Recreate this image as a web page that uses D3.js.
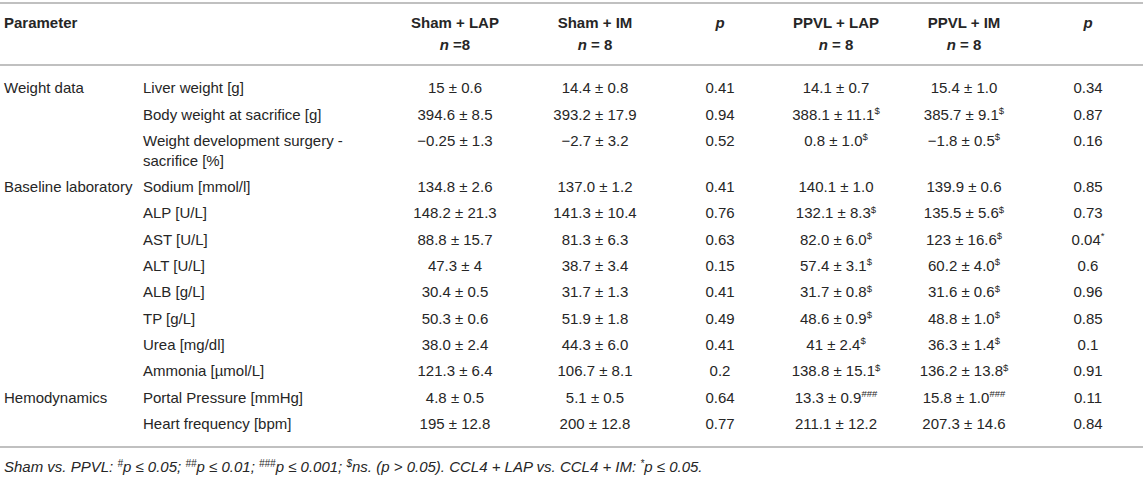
<!DOCTYPE html>
<html>
<head>
<meta charset="utf-8">
<script src="https://cdn.jsdelivr.net/npm/d3@7"></script>
<style>
  html, body { margin: 0; padding: 0; background: #fff; }
  svg text { font-family: "Liberation Sans", Arial, Helvetica, sans-serif; fill: #262626; }
</style>
</head>
<body>
<div id="table"></div>
<script>
const width = 1143;
const height = 477;

// column headers
const columns = ["param", "sub", "shamLap", "shamIm", "p1", "ppvlLap", "ppvlIm", "p2"];
const headTop = ["Parameter", "", "Sham + LAP", "Sham + IM", "p", "PPVL + LAP", "PPVL + IM", "p"];
const headBottom = ["", "", "n =8", "n = 8", "", "n = 8", "n = 8", ""];

// row labels
const groups = ["Weight data", "", "", "Baseline laboratory", "", "", "", "", "", "", "", "Hemodynamics", ""];
const params = [
  ["Liver weight [g]"],
  ["Body weight at sacrifice [g]"],
  ["Weight development surgery -", "sacrifice [%]"],
  ["Sodium [mmol/l]"],
  ["ALP [U/L]"],
  ["AST [U/L]"],
  ["ALT [U/L]"],
  ["ALB [g/L]"],
  ["TP [g/L]"],
  ["Urea [mg/dl]"],
  ["Ammonia [\u00b5mol/L]"],
  ["Portal Pressure [mmHg]"],
  ["Heart frequency [bpm]"]
];

// values (mean ± sd)
const shamLap = ["15 ± 0.6", "394.6 ± 8.5", "\u22120.25 ± 1.3", "134.8 ± 2.6", "148.2 ± 21.3", "88.8 ± 15.7",
  "47.3 ± 4", "30.4 ± 0.5", "50.3 ± 0.6", "38.0 ± 2.4", "121.3 ± 6.4", "4.8 ± 0.5", "195 ± 12.8"];
const shamIm = ["14.4 ± 0.8", "393.2 ± 17.9", "\u22122.7 ± 3.2", "137.0 ± 1.2", "141.3 ± 10.4", "81.3 ± 6.3",
  "38.7 ± 3.4", "31.7 ± 1.3", "51.9 ± 1.8", "44.3 ± 6.0", "106.7 ± 8.1", "5.1 ± 0.5", "200 ± 12.8"];
const pSham = ["0.41", "0.94", "0.52", "0.41", "0.76", "0.63", "0.15", "0.41", "0.49", "0.41", "0.2", "0.64", "0.77"];
const ppvlLap = ["14.1 ± 0.7", "388.1 ± 11.1", "0.8 ± 1.0", "140.1 ± 1.0", "132.1 ± 8.3", "82.0 ± 6.0",
  "57.4 ± 3.1", "31.7 ± 0.8", "48.6 ± 0.9", "41 ± 2.4", "138.8 ± 15.1", "13.3 ± 0.9", "211.1 ± 12.2"];
const ppvlIm = ["15.4 ± 1.0", "385.7 ± 9.1", "\u22121.8 ± 0.5", "139.9 ± 0.6", "135.5 ± 5.6", "123 ± 16.6",
  "60.2 ± 4.0", "31.6 ± 0.6", "48.8 ± 1.0", "36.3 ± 1.4", "136.2 ± 13.8", "15.8 ± 1.0", "207.3 ± 14.6"];
const pPpvl = ["0.34", "0.87", "0.16", "0.85", "0.73", "0.04", "0.6", "0.96", "0.85", "0.1", "0.91", "0.11", "0.84"];

// superscript marks
const supLap = ["", "$", "$", "", "$", "$", "$", "$", "$", "$", "$", "###", ""];
const supIm = ["", "$", "$", "", "$", "$", "$", "$", "$", "$", "$", "###", ""];
const supP = ["", "", "", "", "", "*", "", "", "", "", "", "", ""];
const noSup = params.map(() => "");

const footnote = [
  ["Sham vs. PPVL: ", ""], ["#", "sup"], ["p \u2264 0.05; ", ""], ["##", "sup"], ["p \u2264 0.01; ", ""],
  ["###", "sup"], ["p \u2264 0.001; ", ""], ["$", "sup"], ["ns. (p > 0.05). CCL4 + LAP vs. CCL4 + IM: ", ""],
  ["*", "sup"], ["p \u2264 0.05.", ""]
];

const svg = d3.select("#table")
  .append("svg")
  .attr("width", width)
  .attr("height", height);

// column positions
const x = d3.scaleOrdinal()
  .domain(columns)
  .range([4, 143, 455, 595, 720, 836, 964, 1088]);

// row positions, in line slots (row 2 has a second line)
const lineGap = 20;
const y = d3.scaleLinear().domain([0, 1]).range([88, 114.3]);
const rowY = i => y(i + (i > 2 ? lineGap / 26.3 : 0));

// rules
const rules = [3, 65, 447];
svg.selectAll("line.rule")
  .data(rules)
  .join("line")
  .attr("class", "rule")
  .attr("x1", 0)
  .attr("x2", width)
  .attr("y1", d => d)
  .attr("y2", d => d)
  .attr("stroke", "#ababab")
  .attr("stroke-width", 1.6);

// header
const head = svg.append("g").attr("font-weight", "bold").attr("font-size", 15);
columns.forEach((c, i) => {
  const anchor = i < 2 ? "start" : "middle";
  if (headTop[i]) {
    head.append("text")
      .attr("x", x(c))
      .attr("y", 23)
      .attr("dy", "0.35em")
      .attr("text-anchor", anchor)
      .attr("font-style", headTop[i] === "p" ? "italic" : null)
      .text(headTop[i]);
  }
  if (headBottom[i]) {
    const t = head.append("text")
      .attr("x", x(c))
      .attr("y", 45)
      .attr("dy", "0.35em")
      .attr("text-anchor", anchor);
    t.append("tspan").attr("font-style", "italic").text("n");
    t.append("tspan").text(headBottom[i].slice(1));
  }
});

const body = svg.append("g").attr("font-size", 15);

// group labels
body.selectAll("text.group")
  .data(groups)
  .join("text")
  .attr("class", "group")
  .attr("x", x("param"))
  .attr("y", (d, i) => rowY(i))
  .attr("dy", "0.35em")
  .text(d => d);

// parameter names
params.forEach((lines, i) => {
  lines.forEach((l, j) => {
    body.append("text")
      .attr("x", x("sub"))
      .attr("y", rowY(i) + j * lineGap)
      .attr("dy", "0.35em")
      .text(l);
  });
});

function valueColumn(key, values, sups) {
  const t = body.selectAll("text." + key)
    .data(values)
    .join("text")
    .attr("class", key)
    .attr("x", x(key))
    .attr("y", (d, i) => rowY(i))
    .attr("dy", "0.35em")
    .attr("text-anchor", "middle");
  t.append("tspan").text(d => d);
  t.each(function(d, i) {
    if (sups[i]) {
      d3.select(this).append("tspan")
        .attr("font-size", 9.5)
        .attr("dy", "-0.6em")
        .text(sups[i]);
    }
  });
}

valueColumn("shamLap", shamLap, noSup);
valueColumn("shamIm", shamIm, noSup);
valueColumn("p1", pSham, noSup);
valueColumn("ppvlLap", ppvlLap, supLap);
valueColumn("ppvlIm", ppvlIm, supIm);
valueColumn("p2", pPpvl, supP);

// footnote
const foot = svg.append("text")
  .attr("x", 4)
  .attr("y", 467)
  .attr("dy", "0.35em")
  .attr("font-size", 15)
  .attr("font-style", "italic");
footnote.forEach(([s, kind]) => {
  if (kind === "sup") {
    foot.append("tspan").attr("font-size", 10).attr("baseline-shift", "super").text(s);
  } else {
    foot.append("tspan").text(s);
  }
});
</script>
</body>
</html>
